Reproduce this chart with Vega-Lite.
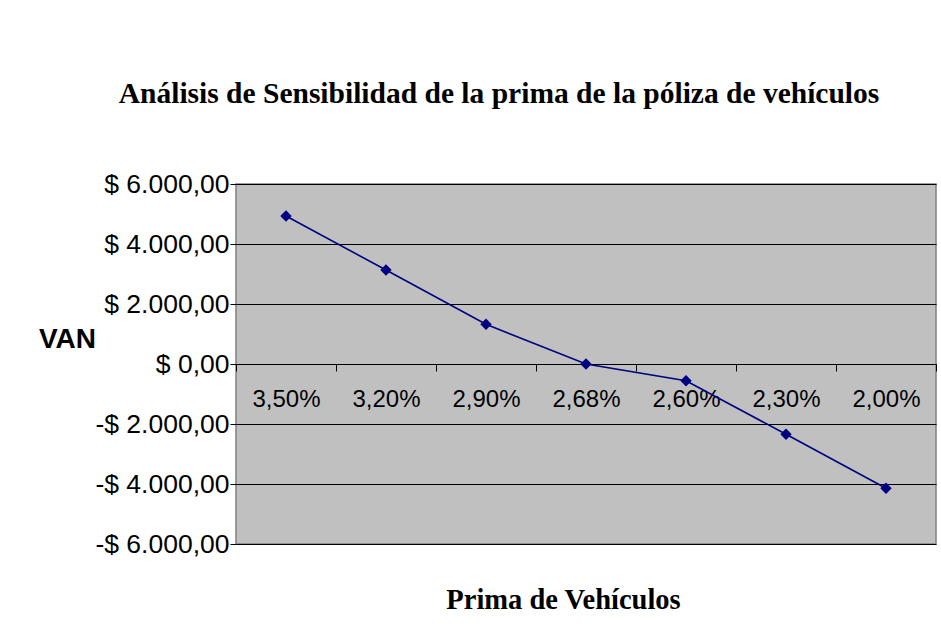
{
  "$schema": "https://vega.github.io/schema/vega-lite/v6.json",
  "width": 700,
  "height": 360,
  "autosize": {"type": "none"},
  "padding": {"left": 236, "top": 184, "right": 5, "bottom": 93},
  "background": "white",
  "title": {
    "text": "Análisis de Sensibilidad de la prima de la póliza de vehículos",
    "font": "Liberation Serif",
    "fontSize": 29.5,
    "fontWeight": "bold",
    "color": "black",
    "anchor": "middle",
    "dx": -87,
    "offset": 62
  },
  "data": {
    "values": [
      {"prima": "3,50%", "van": 4933},
      {"prima": "3,20%", "van": 3133},
      {"prima": "2,90%", "van": 1323},
      {"prima": "2,68%", "van": 0},
      {"prima": "2,60%", "van": -557},
      {"prima": "2,30%", "van": -2343},
      {"prima": "2,00%", "van": -4143}
    ]
  },
  "encoding": {
    "x": {
      "field": "prima",
      "type": "ordinal",
      "sort": null,
      "scale": {"type": "band", "paddingInner": 0, "paddingOuter": 0},
      "axis": {
        "title": "Prima de Vehículos",
        "offset": -180,
        "grid": false,
        "domainColor": "black",
        "domainWidth": 1,
        "tickColor": "black",
        "tickSize": 7,
        "tickBand": "extent",
        "labelAngle": 0,
        "labelFont": "Liberation Sans",
        "labelFontSize": 24,
        "labelColor": "black",
        "labelPadding": 16,
        "titleFont": "Liberation Serif",
        "titleFontSize": 28.5,
        "titleFontWeight": "bold",
        "titleColor": "black",
        "titleAlign": "center",
        "titleBaseline": "alphabetic",
        "titleX": 327,
        "titleY": 244
      }
    },
    "y": {
      "field": "van",
      "type": "quantitative",
      "scale": {"domain": [-6000, 6000], "nice": false, "zero": false},
      "axis": {
        "values": [-6000, -4000, -2000, 0, 2000, 4000, 6000],
        "format": "$,.2f",
        "domain": false,
        "grid": true,
        "gridColor": "black",
        "gridOpacity": 1,
        "gridWidth": 1,
        "tickColor": "black",
        "tickSize": 6,
        "labelPadding": 1,
        "labelFont": "Liberation Sans",
        "labelFontSize": 26.5,
        "labelColor": "black",
        "title": "VAN",
        "titleAngle": 0,
        "titleFont": "Liberation Sans",
        "titleFontSize": 28,
        "titleFontWeight": "bold",
        "titleColor": "black",
        "titleAlign": "center",
        "titleBaseline": "alphabetic",
        "titleX": -169,
        "titleY": 163
      }
    }
  },
  "layer": [
    {"mark": {"type": "line", "color": "#000080", "strokeWidth": 1.6}},
    {"mark": {"type": "point", "shape": "diamond", "filled": true, "size": 130, "color": "#000080", "opacity": 1}}
  ],
  "config": {
    "view": {"fill": "#C0C0C0", "stroke": "#808080", "strokeWidth": 1.5},
    "locale": {
      "number": {
        "decimal": ",",
        "thousands": ".",
        "grouping": [3],
        "currency": ["$ ", ""],
        "minus": "-"
      }
    }
  }
}
